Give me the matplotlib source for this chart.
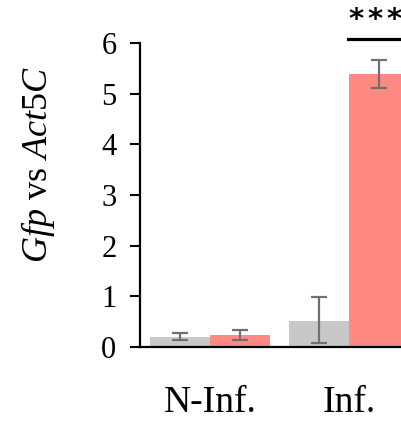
import matplotlib
matplotlib.use("Agg")
import matplotlib.pyplot as plt
import numpy as np

plt.rcParams['font.family'] = ['Liberation Serif', 'DejaVu Serif']
plt.rcParams['mathtext.fontset'] = 'custom'
plt.rcParams['mathtext.rm'] = 'Liberation Serif'
plt.rcParams['mathtext.it'] = 'Liberation Serif:italic'

categories = ["N-Inf.", "Inf."]
gray_vals = [0.20, 0.51]
gray_lo = [0.13, 0.07]
gray_hi = [0.28, 0.98]
red_vals = [0.24, 5.38]
red_lo = [0.14, 5.12]
red_hi = [0.34, 5.66]
yticks = [0, 1, 2, 3, 4, 5, 6]

fig = plt.figure(figsize=(4.02, 4.23), dpi=100)
ax = fig.add_axes([140/402, 76/423, 262/402, 304/423])

x = np.arange(len(categories))
w = 0.43
gray_c = "#C8C8C8"
red_c = "#FF8A84"
err_c = "#707070"

ax.bar(x - w/2, gray_vals, width=w, color=gray_c, zorder=2)
ax.bar(x + w/2, red_vals, width=w, color=red_c, zorder=2)
gerr = [np.array(gray_vals) - np.array(gray_lo), np.array(gray_hi) - np.array(gray_vals)]
rerr = [np.array(red_vals) - np.array(red_lo), np.array(red_hi) - np.array(red_vals)]
ax.errorbar(x - w/2, gray_vals, yerr=gerr, fmt='none', ecolor=err_c, elinewidth=1.6,
            capsize=5.5, capthick=1.6, zorder=3)
ax.errorbar(x + w/2, red_vals, yerr=rerr, fmt='none', ecolor=err_c, elinewidth=1.6,
            capsize=5.5, capthick=1.6, zorder=3)

ax.set_xlim(-0.504, 1.381)
ax.set_ylim(0, 6)
ax.set_yticks(yticks)
ax.set_yticklabels([str(t) for t in yticks], fontsize=22)
ax.set_xticks(x)
ax.set_xticklabels(categories, fontsize=27)
ax.tick_params(axis='x', length=0, pad=28)
ax.tick_params(axis='y', length=7, width=1.5, pad=10)

for s in ['top', 'right']:
    ax.spines[s].set_visible(False)
for s in ['left', 'bottom']:
    ax.spines[s].set_linewidth(1.6)

# significance
ax.plot([0.993, 1.6], [6.08, 6.08], color='black', lw=2.3, clip_on=False)
for dx in (-0.135, 0.0, 0.135):
    ax.text(1.187 + dx, 6.45, "*", ha='center', va='center', fontsize=21,
            family='DejaVu Sans', fontweight='bold', clip_on=False)

fig.text(38/402, 1 - 164/423, r'$\mathit{Gfp}$ vs $\mathit{Act5C}$', rotation=90,
         ha='center', va='center', fontsize=26)

fig.savefig("out.png", dpi=100)
